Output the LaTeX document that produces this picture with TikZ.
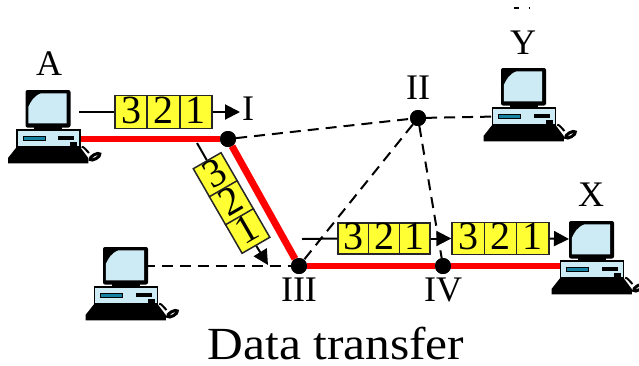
\documentclass[tikz,border=0pt]{standalone}
\usepackage{fontspec}
\setmainfont{Liberation Serif}
\usetikzlibrary{arrows.meta}

\definecolor{packetyellow}{RGB}{255,255,51}
\definecolor{linkred}{RGB}{255,0,0}
\definecolor{screenblue}{RGB}{205,235,245}
\definecolor{slotteal}{RGB}{20,130,160}

\tikzset{
  packetcell/.style={draw=black!85,line width=1.5pt,fill=packetyellow,inner sep=0pt,text depth=4pt,
    minimum width=32pt,minimum height=33pt,font=\fontsize{40}{40}\selectfont},
  router/.style={circle,fill=black,inner sep=0pt,minimum size=16pt},
  place/.style={inner sep=0pt,font=\fontsize{36}{36}\selectfont},
  activelink/.style={draw=linkred,line width=6pt},
  idlelink/.style={draw=black,line width=2pt,dash pattern=on 11pt off 7pt},
  flow/.style={draw=black,line width=2pt},
  flowtip/.style={flow,-{Triangle[length=15pt,width=15pt]}},
  computer/.pic={
    \fill[black,rounded corners=2pt] (-22.5,-19) rectangle (22.5,18.5);
    \fill[screenblue] (-19.7,14.3) -- (18.7,14.3) -- (18.7,-15.7) -- (-7,-15.7)
      .. controls (-14,-13) and (-17,-8) .. (-19.7,-2) -- cycle;
    \fill[black] (-14,18) rectangle (14,22);
    \draw[black,line width=1.5pt,fill=screenblue] (-31,21) rectangle (32,38);
    \draw[black,line width=.8pt,fill=slotteal] (-24.7,27) rectangle (-3,31);
    \fill[black] (10,27) rectangle (26,31);
    \fill[black] (22,33) rectangle (29,38);
    \fill[black] (-31.3,38) -- (32,38) -- (40.3,49) -- (40.3,54.3) -- (-40,54.3) -- (-40,49) -- cycle;
    \draw[black,line width=2pt] (33.7,37.7) .. controls (37,38) and (38,42) .. (41,44);
    \draw[black,line width=3pt,fill=white,rotate around={30:(47,47.7)}] (47,47.7) ellipse (5.5 and 2.2);
  }
}

\begin{document}
\begin{tikzpicture}[x=1pt,y=-1pt]
  \useasboundingbox (0,0) rectangle (639,365);

  % routers
  \node[router] (I)   at (228,139) {};
  \node[router] (II)  at (418,118) {};
  \node[router] (III) at (299,266) {};
  \node[router] (IV)  at (443,266) {};

  % links, the computers are drawn over their ends
  \coordinate (portA) at (48,139);
  \coordinate (portY) at (523.5,116);
  \coordinate (portX) at (591.5,266);
  \coordinate (portB) at (125.5,266);

  \begin{scope}[every edge/.style={idlelink}]
    \path (I)     edge (II);
    \path (II)    edge (portY);
    \path (II)    edge (III);
    \path (II)    edge (IV);
    \path (portB) edge (III);
  \end{scope}

  \begin{scope}[every edge/.style={activelink}]
    \path (portA) edge (I);
    \path (I)     edge[line width=7pt] (III);
    \path (III)   edge (IV);
    \path (IV)    edge (portX);
  \end{scope}

  \node[router] at (I) {};
  \node[router] at (II) {};
  \node[router] at (III) {};
  \node[router] at (IV) {};

  \path (48,109) pic (pcA) {computer};
  \path (523.5,87) pic (pcY) {computer};
  \path (591.5,240) pic (pcX) {computer};
  \path (125.5,266) pic (pcB) {computer};

  % packets
  \begin{scope}[every node/.style={packetcell}]
    \node (a3) at (131.2,112) {3};
    \node (a2) at (163.5,112) {2};
    \node (a1) at (195.8,112) {1};

    \node[rotate=30] (b3) at (215.4,175) {3};
    \node[rotate=30] (b2) at (231.5,203) {2};
    \node[rotate=30] (b1) at (247.7,231) {1};

    \node[minimum width=30.7pt,minimum height=31pt] (c3) at (353.4,238.5) {3};
    \node[minimum width=30.7pt,minimum height=31pt] (c2) at (384,238.5) {2};
    \node[minimum width=30.7pt,minimum height=31pt] (c1) at (414.7,238.5) {1};

    \node[minimum width=32.3pt,minimum height=32pt] (d3) at (468.2,238.5) {3};
    \node[minimum width=32.3pt,minimum height=32pt] (d2) at (500.5,238.5) {2};
    \node[minimum width=32.3pt,minimum height=32pt] (d1) at (532.8,238.5) {1};
  \end{scope}

  % packet flow
  \coordinate (aStart) at (79,112);
  \coordinate (aEnd)   at (240,112);
  \coordinate (bStart) at (197,143);
  \coordinate (bEnd)   at (268,265);
  \coordinate (cStart) at (302,239);
  \coordinate (dEnd)   at (569,239);

  \draw[flow] (aStart) -- (a3.west);
  \draw[flowtip] (a1.east) -- (aEnd);
  \draw[flow] (bStart) -- (b3.north);
  \draw[flowtip] (b1.south) -- (bEnd);
  \draw[flow] (cStart) -- (c3.west);
  \draw[flowtip] (c1.east) -- (d3.west);
  \draw[flowtip] (d1.east) -- (dEnd);

  % labels
  \begin{scope}[every node/.style={place}]
    \node (labelA)   at (49,64)    {A};
    \node (labelI)   at (248,109)  {I};
    \node (labelII)  at (418,88)   {II};
    \node (labelIII) at (299,290)  {III};
    \node (labelIV)  at (443,290)  {IV};
    \node (labelX)   at (591,195)  {X};
    \node (labelY)   at (523,42.5) {Y};
  \end{scope}

  \node[inner sep=0pt,font=\fontsize{46}{46}\selectfont,xscale=1.075,transform shape] (title) at (336,344) {Data transfer};

  % marks at the top edge
  \draw[line width=1.4pt] (514,8) -- (519,8);
  \draw[line width=1.4pt] (528.5,8) -- (530,8);
\end{tikzpicture}
\end{document}
